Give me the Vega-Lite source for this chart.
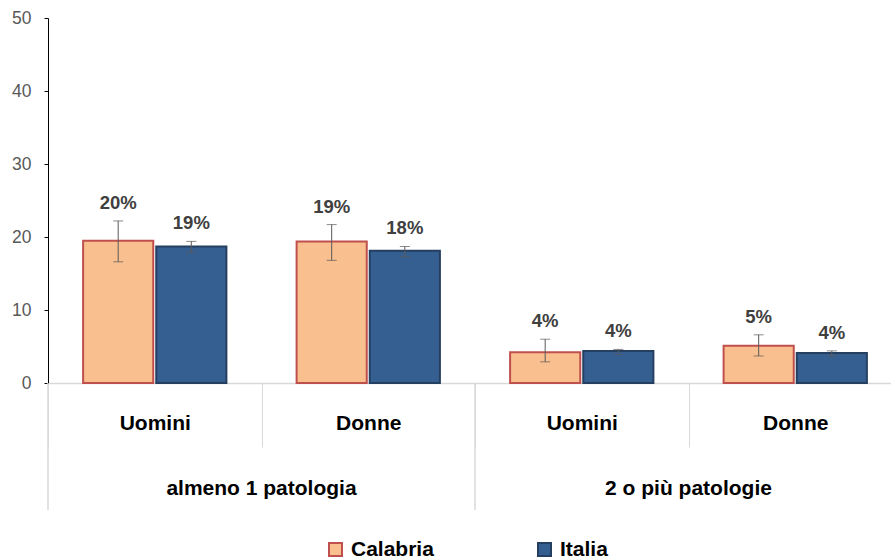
{
  "$schema": "https://vega.github.io/schema/vega-lite/v6.json",
  "width": 843,
  "height": 365,
  "autosize": {"type": "none"},
  "padding": {"left": 48, "top": 18, "right": 0, "bottom": 177},
  "background": "white",
  "config": {
    "view": {"stroke": null},
    "font": "Liberation Sans"
  },
  "datasets": {
    "bars": [
      {"cat": "almeno 1 patologia – Uomini", "regione": "Calabria", "valore": 19.5, "lo": 16.6, "hi": 22.2, "label": "20%"},
      {"cat": "almeno 1 patologia – Uomini", "regione": "Italia", "valore": 18.7, "lo": 17.9, "hi": 19.4, "label": "19%"},
      {"cat": "almeno 1 patologia – Donne", "regione": "Calabria", "valore": 19.4, "lo": 16.8, "hi": 21.7, "label": "19%"},
      {"cat": "almeno 1 patologia – Donne", "regione": "Italia", "valore": 18.1, "lo": 17.3, "hi": 18.7, "label": "18%"},
      {"cat": "2 o più patologie – Uomini", "regione": "Calabria", "valore": 4.2, "lo": 2.9, "hi": 6.0, "label": "4%"},
      {"cat": "2 o più patologie – Uomini", "regione": "Italia", "valore": 4.4, "lo": 3.9, "hi": 4.6, "label": "4%"},
      {"cat": "2 o più patologie – Donne", "regione": "Calabria", "valore": 5.1, "lo": 3.7, "hi": 6.6, "label": "5%"},
      {"cat": "2 o più patologie – Donne", "regione": "Italia", "valore": 4.1, "lo": 3.7, "hi": 4.4, "label": "4%"}
    ],
    "groups": [
      {"cat": "almeno 1 patologia – Donne", "gruppo": "almeno 1 patologia"},
      {"cat": "2 o più patologie – Donne", "gruppo": "2 o più patologie"}
    ],
    "bounds": [
      {"cat": "almeno 1 patologia – Uomini"},
      {"cat": "2 o più patologie – Uomini"}
    ]
  },
  "layer": [
    {
      "data": {"name": "bars"},
      "mark": {"type": "bar", "strokeWidth": 2},
      "encoding": {
        "x": {
          "field": "cat", "type": "nominal", "sort": null,
          "scale": {"paddingInner": 0, "paddingOuter": 0, "range": [0, 854]},
          "axis": {
            "title": null,
            "labelAngle": 0,
            "labelExpr": "split(datum.label, ' – ')[1]",
            "labelFont": "Liberation Sans",
            "labelFontSize": 21,
            "labelFontWeight": "bold",
            "labelColor": "#000000",
            "labelPadding": -35,
            "tickBand": "extent",
            "tickSize": 64,
            "tickColor": "#D9D9D9",
            "domainColor": "#D9D9D9",
            "domainWidth": 1.5,
            "labelLimit": 300
          }
        },
        "xOffset": {
          "field": "regione", "type": "nominal",
          "scale": {"paddingInner": 0.041, "paddingOuter": 0.48}
        },
        "y": {
          "field": "valore", "type": "quantitative",
          "scale": {"domain": [0, 50], "nice": false},
          "axis": {
            "title": null,
            "values": [0, 10, 20, 30, 40, 50],
            "grid": false,
            "domainColor": "#000000",
            "tickColor": "#000000",
            "tickSize": 4,
            "labelPadding": 13,
            "labelFontSize": 17.5,
            "labelColor": "#595959",
            "labelFont": "Liberation Sans"
          }
        },
        "fill": {
          "field": "regione", "type": "nominal",
          "scale": {"domain": ["Calabria", "Italia"], "range": ["#F9BF8F", "#365F91"]},
          "legend": {
            "title": null,
            "orient": "none",
            "legendX": 277,
            "legendY": 521,
            "direction": "horizontal",
            "symbolType": "square",
            "symbolSize": 169,
            "symbolStrokeWidth": 2,
            "labelFontSize": 21,
            "labelFontWeight": "bold",
            "labelColor": "#000000",
            "labelFont": "Liberation Sans",
            "columnPadding": 100,
            "labelOffset": 5
          }
        },
        "stroke": {
          "field": "regione", "type": "nominal",
          "scale": {"domain": ["Calabria", "Italia"], "range": ["#C0504D", "#243F60"]},
          "legend": null
        }
      }
    },
    {
      "data": {"name": "bars"},
      "mark": {"type": "rule", "color": "#595959", "strokeWidth": 1},
      "encoding": {
        "x": {"field": "cat", "type": "nominal", "sort": null},
        "xOffset": {"field": "regione", "type": "nominal"},
        "y": {"field": "lo", "type": "quantitative"},
        "y2": {"field": "hi"}
      }
    },
    {
      "data": {"name": "bars"},
      "mark": {"type": "tick", "color": "#595959", "thickness": 1, "size": 10, "orient": "horizontal"},
      "encoding": {
        "x": {"field": "cat", "type": "nominal", "sort": null},
        "xOffset": {"field": "regione", "type": "nominal"},
        "y": {"field": "lo", "type": "quantitative"}
      }
    },
    {
      "data": {"name": "bars"},
      "mark": {"type": "tick", "color": "#595959", "thickness": 1, "size": 10, "orient": "horizontal"},
      "encoding": {
        "x": {"field": "cat", "type": "nominal", "sort": null},
        "xOffset": {"field": "regione", "type": "nominal"},
        "y": {"field": "hi", "type": "quantitative"}
      }
    },
    {
      "data": {"name": "bars"},
      "mark": {"type": "text", "dy": -8, "baseline": "bottom", "fontSize": 18.5, "fontWeight": "bold", "color": "#404040", "font": "Liberation Sans"},
      "encoding": {
        "x": {"field": "cat", "type": "nominal", "sort": null},
        "xOffset": {"field": "regione", "type": "nominal"},
        "y": {"field": "hi", "type": "quantitative"},
        "text": {"field": "label"}
      }
    },
    {
      "data": {"name": "groups"},
      "mark": {"type": "text", "baseline": "middle", "fontSize": 21, "fontWeight": "bold", "color": "#000000", "font": "Liberation Sans"},
      "encoding": {
        "x": {"field": "cat", "type": "nominal", "sort": null, "bandPosition": 0},
        "y": {"datum": -14.5},
        "text": {"field": "gruppo"}
      }
    },
    {
      "data": {"name": "bounds"},
      "mark": {"type": "rule", "color": "#D9D9D9", "strokeWidth": 1.5},
      "encoding": {
        "x": {"field": "cat", "type": "nominal", "sort": null, "bandPosition": 0},
        "y": {"datum": 0},
        "y2": {"datum": -17.4}
      }
    }
  ]
}
